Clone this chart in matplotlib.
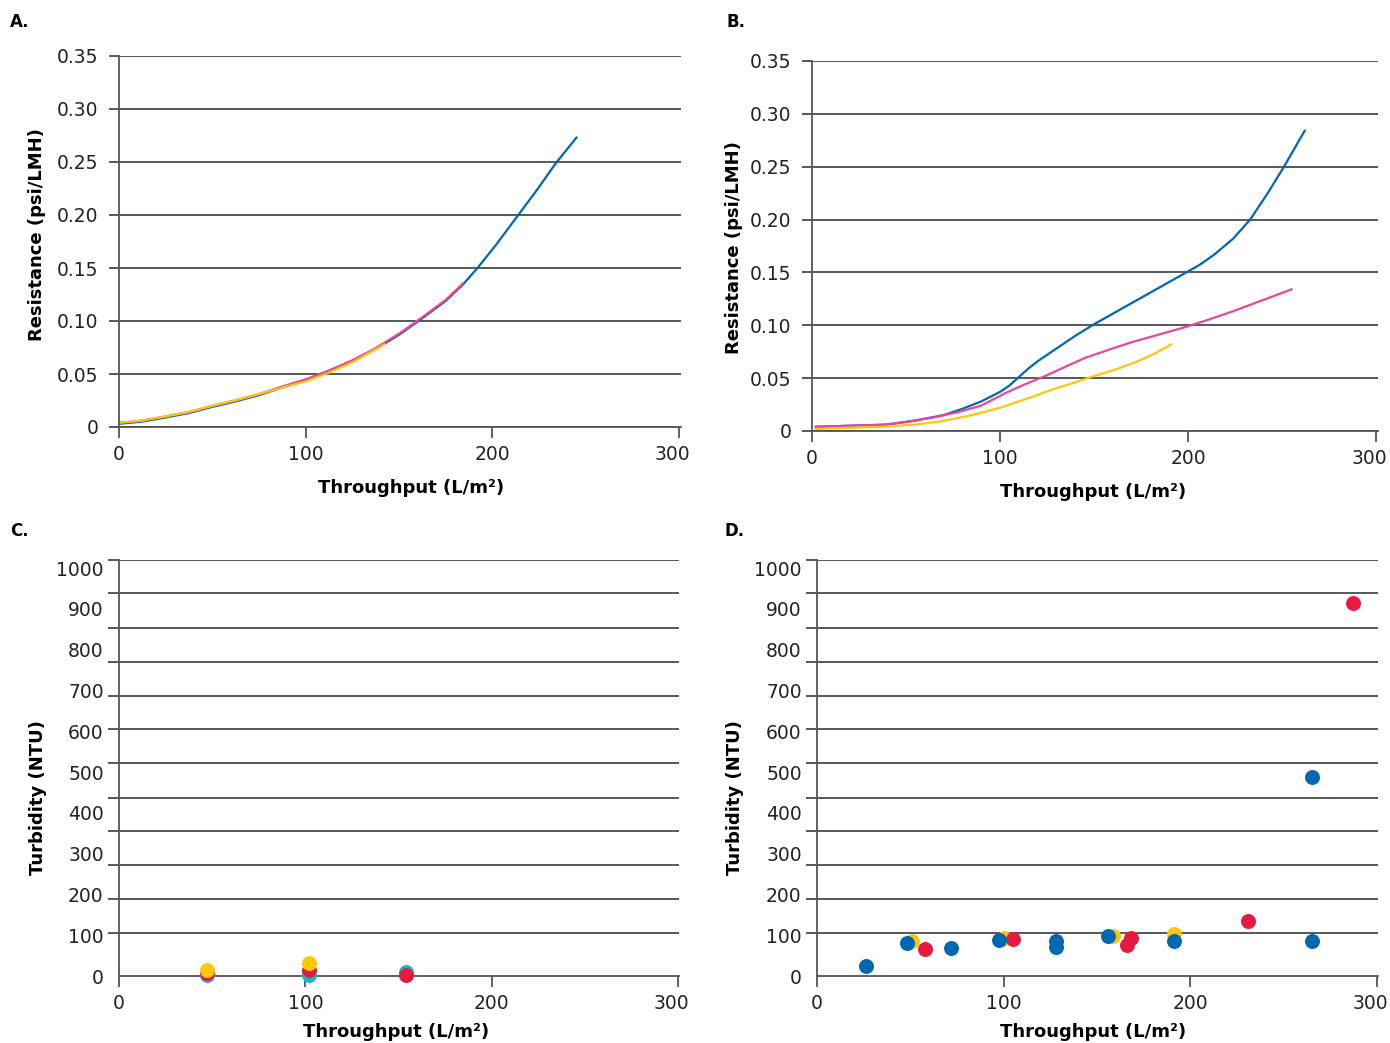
import numpy as np
import matplotlib
matplotlib.use("Agg")
import matplotlib.pyplot as plt
import matplotlib.transforms as mtransforms

plt.rcParams['font.family'] = ['DejaVu Sans']

# ---- panel A: resistance vs throughput (curves overlap)
a_blue_x = [0, 12, 25, 37, 50, 62, 75, 87, 100, 112, 125, 137, 150, 162, 175, 184,
            192, 202, 213, 224, 234, 245]
a_blue_y = [0.003, 0.005, 0.009, 0.013, 0.019, 0.024, 0.030, 0.037, 0.044, 0.052,
            0.062, 0.073, 0.087, 0.102, 0.119, 0.134, 0.150, 0.172, 0.198, 0.224,
            0.249, 0.273]
a_pink_x = [0, 12, 25, 37, 50, 62, 75, 87, 100, 112, 125, 137, 150, 162, 175, 184]
a_pink_y = [0.004, 0.006, 0.010, 0.014, 0.020, 0.025, 0.031, 0.038, 0.045, 0.053,
            0.063, 0.074, 0.088, 0.103, 0.120, 0.135]
a_yell_x = [0, 12, 25, 37, 50, 62, 75, 87, 100, 112, 125, 133, 142]
a_yell_y = [0.004, 0.006, 0.010, 0.014, 0.020, 0.025, 0.031, 0.037, 0.043, 0.051,
            0.061, 0.069, 0.078]

# ---- panel B
b_blue_x = [2, 20, 40, 55, 70, 80, 90, 100, 105, 110, 115, 120, 130, 140, 150, 162,
            175, 187, 197, 206, 214, 224, 233, 242, 251, 262]
b_blue_y = [0.004, 0.005, 0.006, 0.010, 0.015, 0.021, 0.028, 0.037, 0.043, 0.051,
            0.059, 0.066, 0.078, 0.090, 0.101, 0.113, 0.126, 0.138, 0.148, 0.157,
            0.167, 0.182, 0.200, 0.224, 0.250, 0.284]
b_pink_x = [2, 20, 38, 52, 65, 78, 90, 103, 113, 124, 135, 145, 158, 170, 184, 198,
            212, 225, 240, 255]
b_pink_y = [0.004, 0.005, 0.006, 0.009, 0.013, 0.018, 0.024, 0.036, 0.044, 0.052,
            0.061, 0.069, 0.077, 0.084, 0.091, 0.098, 0.106, 0.114, 0.124, 0.134]
b_yell_x = [2, 20, 38, 55, 68, 85, 100, 115, 129, 140, 150, 161, 172, 182, 191]
b_yell_y = [0.002, 0.003, 0.004, 0.006, 0.009, 0.015, 0.022, 0.031, 0.040, 0.046,
            0.052, 0.058, 0.065, 0.073, 0.082]

# ---- panel C: turbidity
c_cyan_x = [47, 102, 154]
c_cyan_y = [3, 3, 10]
c_red_x = [47, 102, 154]
c_red_y = [7, 15, 3]
c_yell_x = [47, 102]
c_yell_y = [15, 32]

# ---- panel D
d_blue_x = [26, 48, 72, 97.5, 128, 128, 156, 191, 265, 265]
d_blue_y = [25, 80, 68, 88, 86, 71, 98, 86, 86, 488]
d_yell_x = [51, 100, 158.5, 191]
d_yell_y = [86, 93, 98, 103]
d_red_x = [58, 105, 166, 168, 231, 287]
d_red_y = [66, 90, 76, 93, 135, 914]

res_ticks = [0, 0.05, 0.10, 0.15, 0.20, 0.25, 0.30, 0.35]
res_labels = ['0', '0.05', '0.10', '0.15', '0.20', '0.25', '0.30', '0.35']
turb_ticks = list(range(0, 1001, 100))
turb_grid = [105, 189, 272, 355, 437, 522, 605, 687, 770, 853, 938, 1020]
x_ticks = [0, 100, 200, 300]

BLUE = '#0067B1'
PINK = '#E8479B'
YELL = '#FDC70C'
RED = '#E8193F'
CYAN = '#1DB3C8'
GRID = '#2a2a2a'
SPINE = '#555555'
TXT = '#222222'
FS_TICK = 13.5
FS_LAB = 13

W, H = 1390, 1043
fig = plt.figure(figsize=(W / 100, H / 100), dpi=100)


def box(l, r, t, b):
    return [l / W, 1 - b / H, (r - l) / W, (b - t) / H]


axA = fig.add_axes(box(119, 681, 56, 427))
axB = fig.add_axes(box(812, 1378, 61, 431))
axC = fig.add_axes(box(119, 679, 560, 976))
axD = fig.add_axes(box(817, 1378, 560, 976))


def style(ax):
    for s in ['top', 'right']:
        ax.spines[s].set_visible(False)
    for s in ['left', 'bottom']:
        ax.spines[s].set_color(SPINE)
        ax.spines[s].set_linewidth(1.3)
    ax.set_xticks(x_ticks)
    ax.tick_params(axis='x', direction='out', length=8, width=1.3, color=SPINE,
                   labelsize=FS_TICK, pad=5, labelcolor=TXT)
    # last label sits a little left of its tick
    lab = ax.get_xticklabels()[-1]
    lab.set_transform(lab.get_transform() +
                      mtransforms.ScaledTranslation(-7 / 100, 0, fig.dpi_scale_trans))


for ax in [axA, axB]:
    style(ax)
    ax.set_xlim(0, 301)
    ax.set_ylim(0, 0.35)
    ax.set_yticks(res_ticks)
    ax.set_yticklabels(res_labels)
    ax.tick_params(axis='y', direction='out', length=7, width=1.1, color=GRID,
                   labelsize=FS_TICK, pad=8, labelcolor=TXT)
    ax.grid(axis='y', color=GRID, linewidth=1.1)
    ax.set_axisbelow(True)
    ax.set_xlabel('Throughput (L/m²)', fontsize=FS_LAB, fontweight='bold')
    ax.set_ylabel('Resistance (psi/LMH)', fontsize=FS_LAB, fontweight='bold')

axA.plot(a_blue_x, a_blue_y, color=BLUE, lw=1.6)
axA.plot(a_pink_x, a_pink_y, color=PINK, lw=1.6)
axA.plot(a_yell_x, a_yell_y, color=YELL, lw=1.6)

axB.plot(b_blue_x, b_blue_y, color=BLUE, lw=1.6)
axB.plot(b_pink_x, b_pink_y, color=PINK, lw=1.6)
axB.plot(b_yell_x, b_yell_y, color=YELL, lw=1.6)

for ax in [axC, axD]:
    style(ax)
    ax.set_xlim(0, 300.5)
    ax.set_ylim(0, 1020)
    ax.set_yticks(turb_ticks)
    ax.tick_params(axis='y', which='major', length=0, labelsize=FS_TICK, pad=11,
                   labelcolor=TXT)
    ax.set_yticks(turb_grid, minor=True)
    ax.tick_params(axis='y', which='minor', direction='out', length=8,
                   width=1.1, color=GRID)
    ax.grid(axis='y', which='minor', color=GRID, linewidth=1.1)
    ax.grid(axis='y', which='major', visible=False)
    ax.set_axisbelow(True)
    ax.set_xlabel('Throughput (L/m²)', fontsize=FS_LAB, fontweight='bold')
    ax.set_ylabel('Turbidity (NTU)', fontsize=FS_LAB, fontweight='bold')

ms = 95
axC.scatter(c_cyan_x, c_cyan_y, s=ms, color=CYAN, zorder=3, clip_on=False)
axC.scatter(c_red_x, c_red_y, s=ms, color=RED, zorder=3, clip_on=False)
axC.scatter(c_yell_x, c_yell_y, s=ms, color=YELL, zorder=3, clip_on=False)

axD.scatter(d_yell_x, d_yell_y, s=ms, color=YELL, zorder=3)
axD.scatter(d_red_x, d_red_y, s=ms, color=RED, zorder=3)
axD.scatter(d_blue_x, d_blue_y, s=ms, color=BLUE, zorder=3)

# label placement (x coord = right edge of the y label, y coord = top of x label)
axA.yaxis.set_label_coords(-0.130, 0.52)
axA.xaxis.set_label_coords(0.52, -0.14)
axB.yaxis.set_label_coords(-0.122, 0.495)
axB.xaxis.set_label_coords(0.496, -0.14)
axC.yaxis.set_label_coords(-0.128, 0.428)
axC.xaxis.set_label_coords(0.495, -0.113)
axD.yaxis.set_label_coords(-0.130, 0.428)
axD.xaxis.set_label_coords(0.492, -0.113)

for txt, x, y in [('A.', 10, 22), ('B.', 726, 22), ('C.', 10, 531), ('D.', 724, 531)]:
    fig.text(x / W, 1 - y / H, txt, fontsize=12, fontweight='bold',
             ha='left', va='center')

fig.savefig('out.png', dpi=100)
